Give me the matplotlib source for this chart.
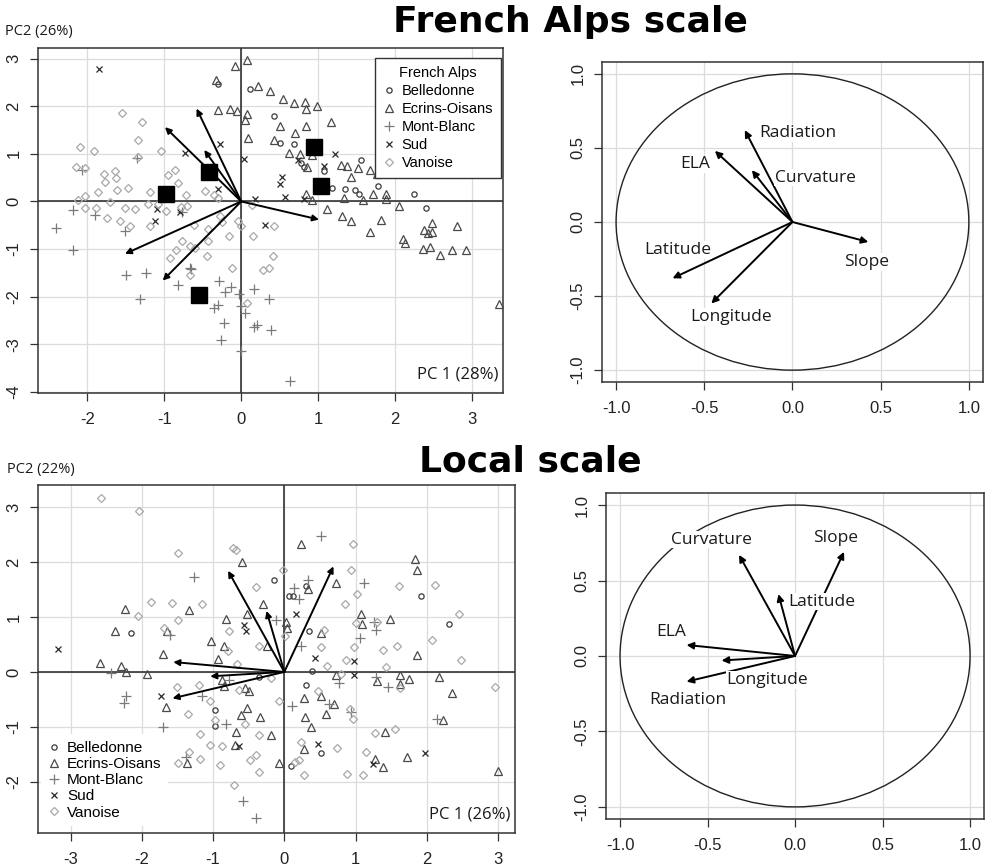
import numpy as np
import matplotlib.pyplot as plt
from matplotlib.patches import Circle
from matplotlib.lines import Line2D

# ---------- French Alps scale: PCA scores (PC1, PC2) ----------
fa_belledonne = np.array([
    (-0.30, 2.46), (0.12, 2.35), (0.42, 1.80), (0.51, 1.22), (0.68, 1.21), (0.78, 0.80),
    (0.82, 0.73), (1.07, 0.63), (1.56, 0.86), (1.78, 0.33), (1.35, 0.26), (1.48, 0.24),
    (1.53, 0.15), (2.25, 0.15), (2.40, -0.14), (1.18, 0.29), (1.06, 0.26)])
fa_ecrins = np.array([
    (0.07, 2.97), (-0.08, 2.85), (-0.33, 2.55), (0.22, 2.43), (0.37, 2.32), (0.54, 2.14),
    (0.69, 2.06), (0.83, 2.08), (0.84, 1.95), (0.99, 2.00), (-0.30, 1.92), (-0.14, 1.95),
    (-0.06, 1.90), (0.07, 1.84), (0.05, 1.70), (0.09, 1.34), (0.51, 1.59), (0.70, 1.43),
    (0.84, 1.58), (1.16, 1.67), (0.43, 1.28), (0.62, 1.01), (0.76, 1.00), (0.92, 0.98),
    (0.85, 0.72), (1.30, 0.77), (1.37, 0.75), (1.52, 0.70), (1.67, 0.65), (1.76, 0.58),
    (1.43, 0.52), (0.84, 0.16), (0.92, 0.03), (1.33, 0.08), (1.58, 0.03), (1.71, 0.15),
    (1.88, 0.15), (1.88, 0.05), (2.05, -0.09), (1.12, -0.16), (1.31, -0.31), (1.43, -0.42),
    (1.67, -0.64), (1.82, -0.38), (2.10, -0.79), (2.13, -0.87), (2.36, -1.00), (2.45, -0.96),
    (2.58, -1.12), (2.74, -1.01), (2.92, -1.01), (2.37, -0.59), (2.48, -0.45), (2.48, -0.64),
    (2.42, -0.66), (2.80, -0.51), (3.35, -2.16)])
fa_montblanc = np.array([
    (-1.36, 0.91), (-2.07, 0.66), (-2.19, -0.17), (-1.90, -0.28), (-0.77, -0.22),
    (-2.40, -0.56), (-2.19, -1.01), (-1.51, -0.63), (-1.50, -1.55), (-1.24, -1.51),
    (-1.32, -2.04), (-0.82, -1.76), (-0.65, -1.41), (-0.29, -1.67), (-0.21, -1.90),
    (-0.13, -1.79), (-0.03, -1.95), (0.16, -1.84), (0.36, -2.04), (-0.30, -2.18),
    (-0.35, -2.23), (0.00, -2.20), (0.05, -2.34), (-0.22, -2.55), (0.17, -2.64),
    (0.20, -2.60), (0.39, -2.69), (-0.26, -2.91), (0.00, -3.14), (0.64, -3.77),
    (-0.67, -1.40)])
fa_sud = np.array([
    (-1.85, 2.79), (-0.27, 1.21), (-0.73, 1.01), (0.03, 0.90), (-0.30, 0.27), (0.18, 0.06),
    (0.53, 0.52), (0.51, 0.36), (0.57, 0.09), (0.81, 0.05), (1.07, 0.75), (1.22, 1.00),
    (0.74, 0.87), (-1.10, -0.16), (0.31, -0.49), (-0.80, -0.23), (-1.12, -0.42)])
fa_vanoise = np.array([
    (-1.55, 1.86), (-1.29, 1.67), (-1.34, 1.29), (-2.09, 1.15), (-1.91, 1.05), (-1.34, 0.94),
    (-1.04, 1.05), (-2.15, 0.72), (-2.03, 0.71), (-1.78, 0.58), (-1.64, 0.63), (-1.63, 0.50),
    (-1.77, 0.40), (-1.47, 0.28), (-1.61, 0.24), (-1.86, 0.19), (-2.03, 0.12), (-2.12, 0.03),
    (-0.95, 0.56), (-0.86, 0.65), (-0.82, 0.38), (-1.18, 0.19), (-0.72, 0.14), (-0.47, 0.21),
    (-0.35, 0.14), (-0.30, 0.07), (-2.03, -0.14), (-1.88, -0.14), (-1.71, -0.02),
    (-1.51, -0.14), (-1.38, -0.16), (-1.21, -0.05), (-1.08, -0.05), (-0.98, -0.21),
    (-0.78, -0.12), (0.14, -0.07), (-1.74, -0.35), (-1.58, -0.40), (-1.45, -0.52),
    (-1.18, -0.51), (-0.71, -0.10), (-0.61, -0.49), (-0.43, -0.57), (-0.27, -0.30),
    (-0.16, -0.73), (-0.25, -0.44), (-0.04, -0.40), (0.00, -0.52), (0.15, -0.73),
    (0.42, -0.52), (-0.77, -0.84), (-0.85, -1.01), (-0.92, -1.19), (-0.66, -0.94),
    (-0.60, -0.98), (-0.45, -1.15), (-0.43, -0.84), (-0.12, -1.40), (-0.66, -1.54),
    (0.28, -1.43), (0.36, -1.40), (0.41, -1.15), (0.07, -2.13)])
fa_centroids = np.array([(-0.98, 0.16), (-0.42, 0.61), (0.94, 1.15), (1.04, 0.33), (-0.55, -1.97)])
fa_arrows = np.array([(-0.58, 1.95), (-0.99, 1.56), (-0.48, 1.08), (-1.51, -1.10),
                      (-1.02, -1.66), (1.01, -0.38)])

# ---------- French Alps scale: correlation circle ----------
fa_vars = ['Radiation', 'ELA', 'Curvature', 'Latitude', 'Longitude', 'Slope']
fa_loadings = np.array([(-0.27, 0.62), (-0.44, 0.48), (-0.23, 0.35), (-0.68, -0.38),
                        (-0.46, -0.55), (0.43, -0.135)])
fa_label_pos = np.array([(0.03, 0.60), (-0.55, 0.39), (0.13, 0.30), (-0.65, -0.19),
                         (-0.35, -0.64), (0.42, -0.27)])

# ---------- Local scale: PCA scores ----------
loc_belledonne = np.array([
    (-0.14, 1.68), (0.30, 1.57), (1.92, 1.38), (2.32, 0.87), (-2.16, 0.71), (0.35, 0.74),
    (0.06, 1.39), (0.12, 1.39), (0.39, 0.01), (0.30, -0.23), (-0.97, -0.70), (-0.98, -0.98),
    (0.52, -1.47), (0.09, -1.72), (-0.36, -0.09)])
loc_ecrins = np.array([
    (0.23, 2.32), (-0.60, 2.00), (0.72, 1.61), (0.33, 1.50), (-2.24, 1.15), (-1.34, 1.13),
    (-0.30, 1.24), (-0.82, 0.97), (-0.53, 1.05), (-2.38, 0.74), (-1.65, 0.75), (-1.03, 0.56),
    (-0.85, 0.48), (-1.71, 0.33), (-0.93, 0.24), (-2.59, 0.16), (-2.29, 0.11), (-2.23, 0.00),
    (-1.93, -0.03), (-0.24, 0.48), (0.04, 0.79), (0.02, 0.90), (0.52, 0.70), (1.08, 1.06),
    (1.09, 0.88), (1.49, 0.97), (1.84, 2.05), (1.86, 1.85), (1.86, 0.30), (0.73, -0.05),
    (1.30, -0.16), (1.63, -0.05), (1.75, -0.12), (2.17, -0.10), (2.36, -0.38), (1.63, -0.22),
    (2.23, -0.87), (3.00, -1.81), (1.42, -1.09), (1.73, -1.55), (1.38, -1.73), (1.28, -1.58),
    (0.27, -0.48), (0.51, -0.44), (0.70, -0.59), (0.59, -0.76), (0.29, -0.82), (0.37, -1.00),
    (0.28, -1.41), (-0.08, -1.65), (-0.49, -0.35), (-0.55, -0.30), (-0.53, -0.65),
    (-0.61, -0.78), (-0.34, -0.82), (-0.68, -1.09), (-0.69, -1.33), (-0.18, -1.15),
    (-1.66, -0.64), (-0.85, -0.26), (-0.87, -0.15), (-1.37, -1.65)])
loc_montblanc = np.array([
    (0.51, 2.47), (-1.27, 1.73), (0.33, 1.67), (0.14, 1.52), (0.21, 1.32), (1.12, 1.62),
    (-0.12, 0.95), (1.26, 0.91), (1.29, 0.77), (1.07, 0.62), (0.24, 0.47), (-1.61, 0.67),
    (-2.44, -0.02), (-2.22, -0.44), (-2.25, -0.56), (-1.70, -1.00), (-1.16, -0.44),
    (-0.82, -0.95), (-1.38, -1.55), (-0.58, -2.35), (-0.40, -2.65), (0.11, -0.62),
    (0.77, -0.21), (0.63, -0.58), (1.29, -0.09), (1.46, -0.28), (2.14, -0.85), (0.94, -0.73),
    (-0.78, -0.14)])
loc_sud = np.array([
    (-3.18, 0.41), (-0.56, 0.85), (-0.54, 0.75), (0.16, 1.06), (0.43, 0.25), (0.98, 0.20),
    (0.98, -0.05), (-1.73, -0.44), (-0.63, -1.35), (0.48, -1.32), (1.97, -1.48), (1.25, -1.67)])
loc_vanoise = np.array([
    (-2.58, 3.17), (-2.04, 2.92), (-1.49, 2.17), (-0.72, 2.26), (-0.68, 2.22), (-0.02, 1.85),
    (0.96, 2.32), (0.94, 1.86), (-1.87, 1.28), (-1.58, 1.26), (-1.15, 1.23), (-1.50, 0.94),
    (-2.06, 1.01), (-1.69, 0.80), (-0.40, 1.55), (-0.77, 0.74), (-0.36, 0.47), (-0.79, 0.38),
    (-0.67, 0.14), (0.01, 0.65), (0.85, 1.24), (1.02, 1.41), (1.61, 1.56), (2.11, 1.59),
    (2.46, 1.06), (1.01, 0.89), (1.30, 0.91), (0.56, 0.77), (0.52, 0.45), (0.98, 0.45),
    (1.38, 0.39), (1.58, 0.48), (2.08, 0.58), (2.48, 0.22), (1.43, 0.09), (0.60, 0.10),
    (0.86, 0.22), (0.80, -0.03), (2.96, -0.27), (1.63, -0.30), (-1.51, -0.28), (-1.20, -0.24),
    (-1.35, -0.76), (-1.05, -0.52), (-0.63, -0.32), (-0.19, -0.11), (-0.08, -0.53),
    (-0.55, -0.94), (-0.98, -0.87), (-1.19, -1.12), (-1.05, -1.33), (-0.87, -1.35),
    (-0.35, -1.14), (-0.40, -1.52), (-0.48, -1.61), (-0.91, -1.70), (-1.18, -1.58),
    (-1.34, -1.45), (-1.49, -1.65), (-0.35, -1.82), (-0.71, -2.05), (0.24, -1.27),
    (0.20, -1.61), (0.15, -1.64), (0.28, -1.88), (0.47, -0.35), (0.74, -1.39), (0.97, -0.85),
    (0.92, -0.68), (0.88, -1.86), (1.10, -1.88), (1.15, -1.45), (1.27, -1.11), (1.55, -1.03)])
loc_arrows = np.array([(-0.79, 1.84), (-0.25, 1.11), (0.69, 1.92), (-1.56, 0.18),
                       (-1.04, -0.08), (-1.57, -0.48)])

# ---------- Local scale: correlation circle ----------
loc_vars = ['Curvature', 'Slope', 'Latitude', 'ELA', 'Longitude', 'Radiation']
loc_loadings = np.array([(-0.32, 0.67), (0.28, 0.69), (-0.095, 0.41), (-0.62, 0.073),
                         (-0.42, -0.03), (-0.62, -0.17)])
loc_label_pos = np.array([(-0.48, 0.77), (0.23, 0.78), (0.15, 0.36), (-0.71, 0.16),
                          (-0.16, -0.16), (-0.61, -0.29)])

groups = ['Belledonne', 'Ecrins-Oisans', 'Mont-Blanc', 'Sud', 'Vanoise']
styles = {
    'Belledonne': dict(marker='o', color='#3a3a3a', ms=3.8),
    'Ecrins-Oisans': dict(marker='^', color='#4a4a4a', ms=5.8),
    'Mont-Blanc': dict(marker='+', color='#7a7a7a', ms=7),
    'Sud': dict(marker='x', color='#2a2a2a', ms=4.6),
    'Vanoise': dict(marker='D', color='#a8a8a8', ms=4.5),
}

TICKFONT = 'Liberation Sans'
LABFONT = 'Open Sans'
GRID = '#dcdcdc'
EDGE = '#333333'


def style_axes(ax, xlim, ylim, xticks, yticks, fmt):
    ax.set_xlim(*xlim)
    ax.set_ylim(*ylim)
    ax.set_xticks(xticks)
    ax.set_yticks(yticks)
    ax.set_xticklabels([fmt.format(t) for t in xticks], fontfamily=TICKFONT, fontsize=12,
                       color='#222222')
    ax.set_yticklabels([fmt.format(t) for t in yticks], fontfamily=TICKFONT, fontsize=12,
                       rotation=90, va='center', color='#222222')
    ax.tick_params(direction='out', length=6, width=0.9, color=EDGE)
    ax.tick_params(axis='x', pad=8)
    ax.tick_params(axis='y', pad=6)
    ax.grid(True, color=GRID, lw=0.9)
    ax.set_axisbelow(True)
    for s in ax.spines.values():
        s.set_color(EDGE)
        s.set_linewidth(1.1)


def draw_arrow(ax, x, y, lw=1.4, ms=9):
    ax.annotate('', xy=(x, y), xytext=(0, 0),
                arrowprops=dict(arrowstyle='-|>', color='black', lw=lw,
                                mutation_scale=ms, shrinkA=0, shrinkB=0), zorder=5)


def score_panel(ax, data, arrows, xlim, ylim, xticks, yticks):
    style_axes(ax, xlim, ylim, xticks, yticks, '{:g}')
    ax.axhline(0, color='#222222', lw=1.1, zorder=2)
    ax.axvline(0, color='#222222', lw=1.1, zorder=2)
    for g, pts in zip(groups, data):
        st = styles[g]
        ax.plot(pts[:, 0], pts[:, 1], ls='none', marker=st['marker'], ms=st['ms'],
                mfc='none', mec=st['color'], mew=0.9, zorder=3)
    for x, y in arrows:
        draw_arrow(ax, x, y)


def legend_handles():
    hs = []
    for g in groups:
        st = styles[g]
        hs.append(Line2D([], [], ls='none', marker=st['marker'], ms=st['ms'],
                         mfc='none', mec=st['color'], mew=0.9, label=g))
    return hs


def circle_panel(ax, names, loads, labpos):
    ticks = [-1.0, -0.5, 0.0, 0.5, 1.0]
    style_axes(ax, (-1.08, 1.08), (-1.08, 1.08), ticks, ticks, '{:.1f}')
    ax.add_patch(Circle((0, 0), 1.0, fill=False, ec='#222222', lw=1.0, zorder=3))
    for (x, y) in loads:
        draw_arrow(ax, x, y, lw=1.4, ms=10)
    for name, (x, y) in zip(names, labpos):
        ax.text(x, y, name, ha='center', va='center', fontsize=12.5, fontfamily=LABFONT,
                color='#1a1a1a', zorder=6,
                bbox=dict(facecolor='white', edgecolor='none', pad=0.5))


fig = plt.figure(figsize=(9.94, 8.67), dpi=100)

# top-left: French Alps scores
ax1 = fig.add_axes([0.0382, 0.5467, 0.4678, 0.3979])
score_panel(ax1, [fa_belledonne, fa_ecrins, fa_montblanc, fa_sud, fa_vanoise], fa_arrows,
            (-2.64, 3.40), (-4.02, 3.22), [-2, -1, 0, 1, 2, 3], [-4, -3, -2, -1, 0, 1, 2, 3])
ax1.plot(fa_centroids[:, 0], fa_centroids[:, 1], ls='none', marker='s', ms=11,
         color='black', zorder=6)
leg1 = ax1.legend(handles=legend_handles(), title='French Alps', loc='upper right',
                  bbox_to_anchor=(0.996, 0.972), borderaxespad=0, fancybox=False,
                  framealpha=1, edgecolor=EDGE, prop=dict(family=TICKFONT, size=10.5),
                  handlelength=0.8, handletextpad=0.45, labelspacing=0.28, borderpad=0.55)
leg1.get_frame().set_linewidth(1.0)
leg1.get_title().set_fontfamily(TICKFONT)
leg1.get_title().set_fontsize(10.5)
ax1.text(0.99, 0.03, 'PC 1 (28%)', transform=ax1.transAxes, ha='right', va='bottom',
         fontsize=12, fontfamily=LABFONT, color='#1a1a1a')

# top-right: French Alps correlation circle
ax2 = fig.add_axes([0.6056, 0.5594, 0.3833, 0.3691])
circle_panel(ax2, fa_vars, fa_loadings, fa_label_pos)

# bottom-left: Local scores
ax3 = fig.add_axes([0.0382, 0.0392, 0.4799, 0.4014])
score_panel(ax3, [loc_belledonne, loc_ecrins, loc_montblanc, loc_sud, loc_vanoise], loc_arrows,
            (-3.46, 3.24), (-2.93, 3.40), [-3, -2, -1, 0, 1, 2, 3], [-2, -1, 0, 1, 2, 3])
leg3 = ax3.legend(handles=legend_handles(), loc='lower left', bbox_to_anchor=(0.0, 0.01),
                  borderaxespad=0.2, fancybox=False, framealpha=1, edgecolor='none',
                  prop=dict(family=TICKFONT, size=11), handlelength=0.8,
                  handletextpad=0.45, labelspacing=0.14, borderpad=0.45)
ax3.text(0.99, 0.03, 'PC 1 (26%)', transform=ax3.transAxes, ha='right', va='bottom',
         fontsize=12, fontfamily=LABFONT, color='#1a1a1a')

# bottom-right: Local correlation circle
ax4 = fig.add_axes([0.6097, 0.0554, 0.3803, 0.3760])
circle_panel(ax4, loc_vars, loc_loadings, loc_label_pos)

# labels and titles
fig.text(5 / 994, 1 - 31 / 867, 'PC2 (26%)', fontsize=10.5, fontfamily=LABFONT,
         ha='left', va='center', color='#1a1a1a')
fig.text(7 / 994, 1 - 469 / 867, 'PC2 (22%)', fontsize=10.5, fontfamily=LABFONT,
         ha='left', va='center', color='#1a1a1a')
fig.text(570 / 994, 1 - 22 / 867, 'French Alps scale', fontsize=26, fontweight='bold',
         fontfamily='DejaVu Sans', ha='center', va='center')
fig.text(530 / 994, 1 - 462 / 867, 'Local scale', fontsize=26, fontweight='bold',
         fontfamily='DejaVu Sans', ha='center', va='center')

fig.savefig('out.png', dpi=100)
